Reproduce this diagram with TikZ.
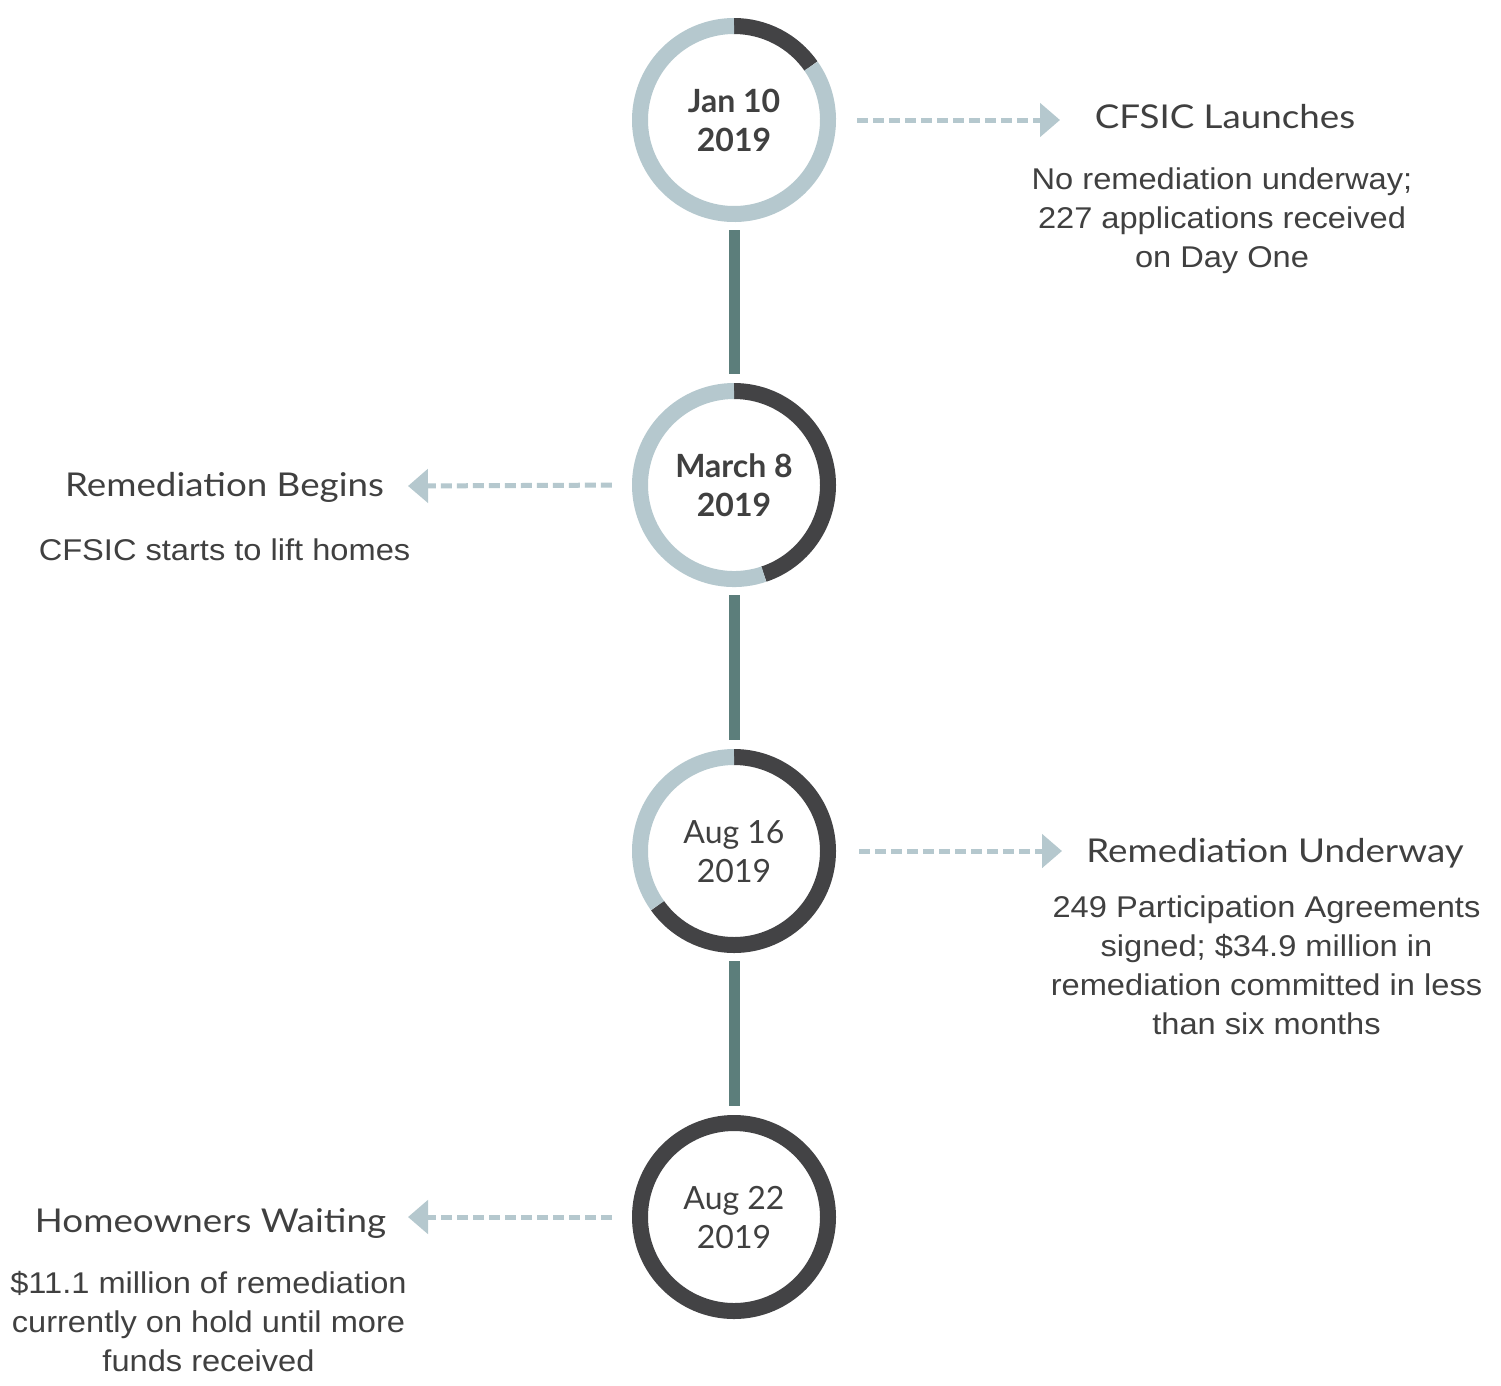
\documentclass[tikz,border=0pt]{standalone}
\usepackage{fontspec}
\setmainfont{Liberation Sans}
\newfontfamily\bodyfont[FakeStretch=1.087]{Liberation Sans}
\newfontfamily\latofont{Lato}
\newfontfamily\titlefont[FakeStretch=1.12]{Lato}
\usetikzlibrary{arrows.meta}
\definecolor{ringdark}{HTML}{434345}
\definecolor{ringlight}{HTML}{B5C8CE}
\definecolor{conn}{HTML}{5C7E7B}
\definecolor{txt}{HTML}{404040}
\begin{document}
\begin{tikzpicture}[x=1pt,y=1pt,
  hub/.style={circle, minimum size=204pt, inner sep=0pt, text=txt, align=center,
    text height=62pt, text depth=0pt, font=\latofont\fontsize{32}{39}\selectfont},
  hubbold/.style={hub, font=\latofont\bfseries\fontsize{32}{39}\selectfont},
  ringseg/.style={line width=16pt},
  link/.style={conn, line width=11pt, shorten <=8pt, shorten >=9pt},
  flow/.style={ringlight, line width=5pt, dash pattern=on 11pt off 5pt,
    -{Triangle[length=20pt,width=33pt]}},
  title/.style={font=\titlefont\fontsize{32.8}{38}\selectfont, text=txt,
    text height=23.5pt, text depth=0pt, inner sep=0pt},
  body/.style={font=\bodyfont\fontsize{30}{39}\selectfont, text=txt, align=center,
    text height=21.5pt, text depth=0pt, inner sep=0pt}]
\fill[white] (0,0) rectangle (1501,-1385);
\useasboundingbox (0,0) rectangle (1501,-1385);

% hubs
\node[hubbold] (c1) at (734,-120) {Jan 10\\2019};
\node[hubbold] (c2) at (734,-485) {March 8\\2019};
\node[hub] (c3) at (734,-851) {Aug 16\\2019};
\node[hub] (c4) at (734,-1217) {Aug 22\\2019};

% rings
\draw[ringseg, ringdark] ([shift={(90:94)}]c1.center) arc[start angle=90, end angle=35, radius=94];
\draw[ringseg, ringlight] ([shift={(35:94)}]c1.center) arc[start angle=35, end angle=-270, radius=94];
\draw[ringseg, ringdark] ([shift={(90:94)}]c2.center) arc[start angle=90, end angle=-71.5, radius=94];
\draw[ringseg, ringlight] ([shift={(-71.5:94)}]c2.center) arc[start angle=-71.5, end angle=-270, radius=94];
\draw[ringseg, ringdark] ([shift={(90:94)}]c3.center) arc[start angle=90, end angle=-144.5, radius=94];
\draw[ringseg, ringlight] ([shift={(-144.5:94)}]c3.center) arc[start angle=-144.5, end angle=-270, radius=94];
\draw[ringseg, ringdark] (c4.center) circle[radius=94];

% vertical links
\draw[link] (c1.south) -- (c2.north);
\draw[link] (c2.south) -- (c3.north);
\draw[link] (c3.south) -- (c4.north);

% arrows
\coordinate (a1) at (1060,-120);
\coordinate (a2) at (408,-486);
\coordinate (a3) at (1062,-851);
\coordinate (a4) at (408,-1217);
\draw[flow, shorten <=21pt] (c1.east) -- (a1);
\draw[flow, shorten <=20pt] (c2.west) -- (a2);
\draw[flow, shorten <=23pt] (c3.east) -- (a3);
\draw[flow, shorten <=20pt] (c4.west) -- (a4);

% texts (body nodes are centred on their last line)
\node[title] (t1) at (1225,-117) {CFSIC Launches};
\node[body] (b1) at (1222,-257) {No remediation underway;\\227 applications received\\on Day One};
\node[title] (t2) at (224.5,-485) {Remediation Begins};
\node[body] (b2) at (224.5,-550) {CFSIC starts to lift homes};
\node[title] (t3) at (1275,-851) {Remediation Underway};
\node[body] (b3) at (1266.5,-1024) {249 Participation Agreements\\signed; \$34.9 million in\\remediation committed in less\\than six months};
\node[title] (t4) at (210.5,-1221) {Homeowners Waiting};
\node[body] (b4) at (208.5,-1361) {\$11.1 million of remediation\\currently on hold until more\\funds received};
\end{tikzpicture}
\end{document}
